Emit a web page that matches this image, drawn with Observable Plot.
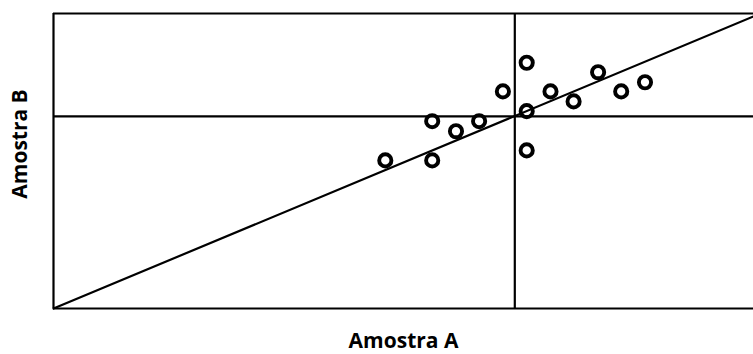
<!DOCTYPE html>
<html>
<head>
<meta charset="utf-8">
<style>
  html, body { margin: 0; padding: 0; background: #fff; }
  #chart svg { display: block; }
</style>
<script src="https://cdn.jsdelivr.net/npm/d3@7"></script>
<script src="https://cdn.jsdelivr.net/npm/@observablehq/plot@0.6"></script>
</head>
<body>
<div id="chart"></div>
<script>
// Data (arbitrary 0–100 units, no ticks shown)
const amostraA = [47.4, 54.1, 54.1, 57.5, 60.8, 64.2, 67.6, 67.6, 67.6, 71.0, 74.3, 77.8, 81.1, 84.5];
const amostraB = [50.2, 50.2, 63.5, 60.1, 63.5, 73.6, 83.3, 66.9, 53.6, 73.6, 70.2, 80.1, 73.6, 76.7];
const referenceA = [65.9];
const referenceB = [65.1];
const lineA = [0, 100];
const lineB = [0, 99];
const xLabel = "Amostra A";
const yLabel = "Amostra B";

const points = amostraA.map((a, i) => ({a, b: amostraB[i]}));
const diag = lineA.map((a, i) => ({a, b: lineB[i]}));

const chart = Plot.plot({
  width: 753,
  height: 354,
  marginLeft: 53,
  marginRight: 0,
  marginTop: 13,
  marginBottom: 46,
  x: {domain: [0, 100], axis: null},
  y: {domain: [0, 100], axis: null},
  style: {fontFamily: "'Open Sans', sans-serif", background: "#fff"},
  marks: [
    Plot.ruleX([0], {stroke: "#000", strokeWidth: 2.2}),
    Plot.ruleY([0, 100], {stroke: "#000", strokeWidth: 2.2}),
    Plot.ruleX(referenceA, {stroke: "#000", strokeWidth: 2.2}),
    Plot.ruleY(referenceB, {stroke: "#000", strokeWidth: 2.2}),
    Plot.line(diag, {x: "a", y: "b", stroke: "#000", strokeWidth: 2.2}),
    Plot.dot(points, {x: "a", y: "b", r: 6.1, stroke: "#000", strokeWidth: 3.9, fill: "none"}),
    Plot.text([xLabel], {frameAnchor: "bottom", dy: 39, fontSize: 21, fontWeight: "bold", fill: "#000"}),
    Plot.text([yLabel], {frameAnchor: "left", textAnchor: "middle", dx: -33, dy: -17, rotate: -90, fontSize: 21, fontWeight: "bold", fill: "#000"})
  ]
});
document.getElementById("chart").appendChild(chart);
</script>
</body>
</html>
